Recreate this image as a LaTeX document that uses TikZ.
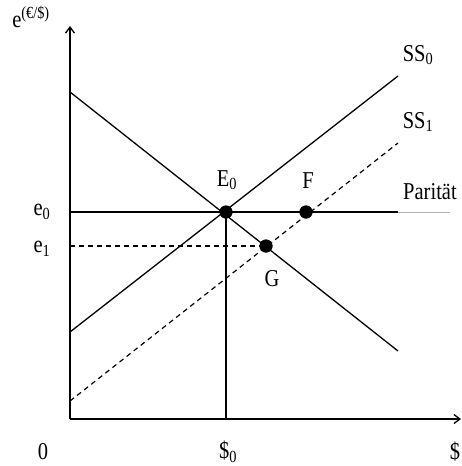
\documentclass[tikz,border=0pt]{standalone}
\usepackage{fontspec}
\usepackage{graphicx}
\setmainfont{Liberation Serif}
\usetikzlibrary{arrows.meta}
\newcommand{\vst}[1]{\scalebox{1}[1.18]{#1}}
\begin{document}
\begin{tikzpicture}[x=1pt,y=-1pt,
  ln/.style={line width=1.3pt},
  dsh/.style={line width=1.2pt,dash pattern=on 5pt off 4pt},
  dot/.style={circle,fill=black,inner sep=0pt,minimum size=13pt},
  lbl/.style={inner sep=0pt,font=\fontsize{20.5}{24}\selectfont}]
\useasboundingbox (0,0) rectangle (461,466);
% axes
\coordinate (O) at (70,419);
\coordinate (Ytop) at (70,26);
\coordinate (Xend) at (461,419);
\draw[ln,-{Straight Barb[length=6pt,width=9pt]}] (O) -- (Ytop);
\draw[ln,-{Straight Barb[length=6pt,width=9pt]}] (O) -- (Xend);
% points
\node[dot] (E0) at (226,212) {};
\node[dot] (F) at (306,212) {};
\node[dot] (G) at (266,246) {};
% curve end points
\coordinate (Dl) at (70,92);
\coordinate (Dr) at (398,351);
\coordinate (S0l) at (70,332);
\coordinate (S0r) at (398,76);
\coordinate (S1l) at (70,401);
\coordinate (S1r) at (398,143);
\coordinate (Pl) at (70,212);
\coordinate (Pr) at (398,212);
\coordinate (Pg) at (450,212);
\coordinate (E1l) at (70,246);
\coordinate (X0) at (226,419);
% lines
\draw[ln] (Dl) -- (Dr);
\draw[ln] (S0l) -- (S0r);
\draw[dsh] (S1l) -- (S1r);
\draw[ln] (Pl) -- (Pr);
\draw[line width=0.8pt,black!30] (Pr) -- (Pg);
\draw[dsh] (E1l) -- (G.center);
\draw[ln] (E0.center) -- (X0);
% redraw dots on top
\node[dot] at (E0) {};
\node[dot] at (F) {};
\node[dot] at (G) {};
% labels
\node[lbl] (ylab) at (31,17) {\vst{e\textsuperscript{(€/\$)}}};
\node[lbl] (e0) at (42,212) {\vst{e\textsubscript{0}}};
\node[lbl] (e1) at (42,249) {\vst{e\textsubscript{1}}};
\node[lbl] (zero) at (43,452) {\vst{0}};
\node[lbl] (d0) at (228,452) {\vst{\$\textsubscript{0}}};
\node[lbl] (d) at (455,452) {\vst{\$}};
\node[lbl] (E0l) at (227,180) {\vst{E\textsubscript{0}}};
\node[lbl] (Fl) at (308,181) {\vst{F}};
\node[lbl] (Gl) at (272,279) {\vst{G}};
\node[lbl] (SS0) at (418,55) {\vst{SS\textsubscript{0}}};
\node[lbl] (SS1) at (418,122) {\vst{SS\textsubscript{1}}};
\node[lbl] (Par) at (430,192) {\vst{Parität}};
\end{tikzpicture}
\end{document}
